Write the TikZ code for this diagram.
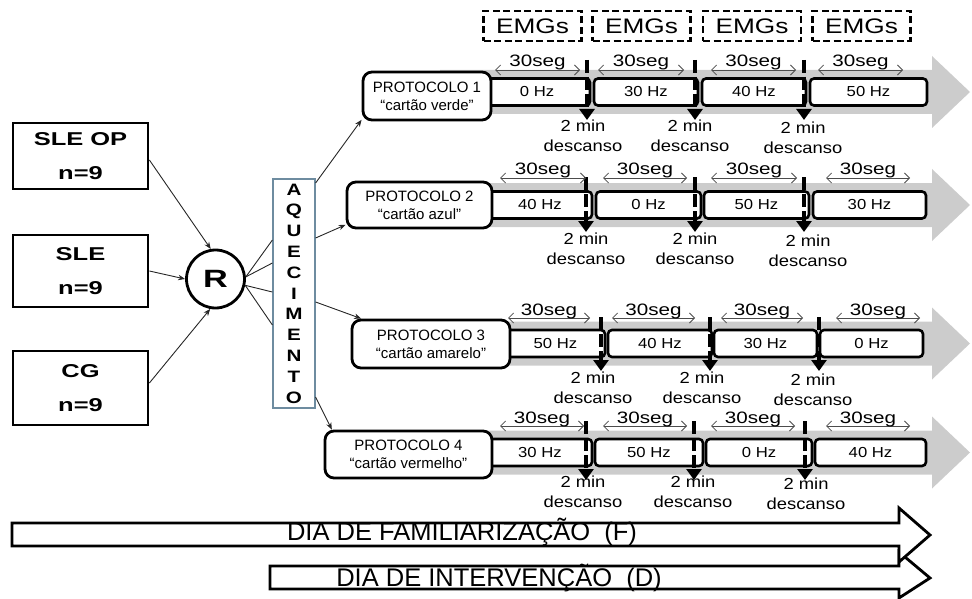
\documentclass[tikz,border=0pt]{standalone}
\usepackage{fontspec}
\setmainfont{Liberation Sans}
\newfontfamily\fntA{Liberation Sans}[FakeStretch=1.37]
\newfontfamily\fntB{Liberation Sans}[FakeStretch=1.25]
\newfontfamily\fntC{Liberation Sans}[FakeStretch=1.15]
\usetikzlibrary{arrows.meta}
\definecolor{garrow}{RGB}{204,204,204}
\definecolor{aqline}{RGB}{110,140,160}
\newcommand\segnode[5]{\node[segbox, minimum width={(#4-#3)*1pt}] (#1) at ({(#3+#4)/2},#2) {#5};}
\newcommand\grayarrow[1]{\fill[garrow] (440,#1-22) -- (932,#1-22) -- (932,#1-36) -- (970,#1) -- (932,#1+36) -- (932,#1+22) -- (440,#1+22) -- cycle;}
\begin{document}
\begin{tikzpicture}[x=1pt,y=-1pt,
 grp/.style={draw, line width=2.8pt, minimum width=135pt, inner sep=0pt, align=center, font={\fntA\bfseries\fontsize{18.6}{34}\selectfont}},
 conn/.style={draw=black!85, line width=0.9pt, -{Stealth[length=7pt,width=5.5pt]}},
 thinline/.style={draw=black!85, line width=0.9pt},
 prot/.style={draw, line width=2.8pt, rounded corners=9pt, fill=white, inner sep=0pt, align=center, font={\fontsize{15}{18}\selectfont}},
 segbox/.style={draw, line width=2.6pt, rounded corners=4pt, fill=white, minimum height=27pt, inner sep=0pt, font={\fntC\fontsize{14.5}{16}\selectfont}},
 emg/.style={draw, line width=2.6pt, dash pattern=on 7pt off 3.5pt, minimum width=98pt, minimum height=30pt, inner sep=0pt, font={\fntB\fontsize{21}{24}\selectfont}},
 restmark/.style={line width=4.5pt, dash pattern=on 13pt off 4pt, -{Triangle[width=15pt,length=11pt]}},
 durarr/.style={draw=black!70, line width=0.8pt, {Straight Barb[length=5pt,width=10pt]}-{Straight Barb[length=5pt,width=10pt]}},
 durtxt/.style={anchor=base, yshift=3pt, inner sep=0pt, font={\fntB\fontsize{16.5}{18}\selectfont}},
 resttxt/.style={align=center, inner sep=0pt, font={\fntC\fontsize{16}{20}\selectfont}},
 daybox/.style={draw, line width=2.8pt, fill=white, line join=miter},
 daytxt/.style={inner sep=0pt, font={\fontsize{25.5}{28}\selectfont}}
]
\useasboundingbox (0,0) rectangle (972,599);

% left groups
\node[grp, minimum height=66pt] (sleop) at (80.5,156) {SLE OP\\n=9};
\node[grp, minimum height=72pt] (sle) at (80.5,271) {SLE\\n=9};
\node[grp, minimum height=74pt] (cg) at (80.5,388) {CG\\n=9};
\node[circle, draw, line width=2.8pt, minimum size=58pt, inner sep=0pt, font={\fntA\bfseries\fontsize{25}{28}\selectfont}] (R) at (215.5,279) {R};

\draw[conn] ([yshift=-4pt]sleop.east) -- (R.99);
\draw[conn] (sle.east) -- (R.180);
\draw[conn] ([yshift=5pt]cg.east) -- (R.260);

% aquecimento
\node[draw=aqline, line width=1.2pt, minimum width=42pt, minimum height=229pt, inner sep=0pt, align=center, font={\fntB\bfseries\fontsize{16.5}{20.8}\selectfont}] (aq) at (294,293.5) {A\\Q\\U\\E\\C\\I\\M\\E\\N\\T\\O};
\draw[thinline] (R.4) -- ([yshift=53.5pt]aq.west);
\draw[thinline] (R.4) -- ([yshift=30.5pt]aq.west);
\draw[thinline] (R.-12) -- ([yshift=1.5pt]aq.west);
\draw[thinline] (R.-12) -- ([yshift=-31.5pt]aq.west);

% gray arrows
\grayarrow{92}
\grayarrow{205}
\grayarrow{343.5}
\grayarrow{452.5}

% segments
\segnode{r1a}{92}{484}{590}{0 Hz}
\segnode{r1b}{92}{594}{698}{30 Hz}
\segnode{r1c}{92}{702}{806}{40 Hz}
\segnode{r1d}{92}{810}{927}{50 Hz}
\segnode{r2a}{205}{488}{592}{40 Hz}
\segnode{r2b}{205}{596}{701}{0 Hz}
\segnode{r2c}{205}{704}{809}{50 Hz}
\segnode{r2d}{205}{813}{926}{30 Hz}
\segnode{r3a}{343.5}{506}{605}{50 Hz}
\segnode{r3b}{343.5}{608}{712}{40 Hz}
\segnode{r3c}{343.5}{714}{817}{30 Hz}
\segnode{r3d}{343.5}{820}{923}{0 Hz}
\segnode{r4a}{452.5}{488}{592}{30 Hz}
\segnode{r4b}{452.5}{595}{703}{50 Hz}
\segnode{r4c}{452.5}{706}{812}{0 Hz}
\segnode{r4d}{452.5}{815}{926}{40 Hz}

% protocol boxes
\node[prot, minimum width=128pt, minimum height=48pt] (p1) at (427,96) {PROTOCOLO 1\\“cartão verde”};
\node[prot, minimum width=145pt, minimum height=46pt] (p2) at (419.5,205) {PROTOCOLO 2\\“cartão azul”};
\node[prot, minimum width=158pt, minimum height=48pt] (p3) at (431,344) {PROTOCOLO 3\\“cartão amarelo”};
\node[prot, minimum width=167pt, minimum height=47pt] (p4) at (408.5,454.5) {PROTOCOLO 4\\“cartão vermelho”};

\draw[conn] ([yshift=110.5pt]aq.east) -- (p1.200);
\draw[conn] ([yshift=55.5pt]aq.east) -- (p2.195);
\draw[conn] ([yshift=-8.5pt]aq.east) -- (p3.160);
\draw[conn] ([yshift=-103.5pt]aq.east) -- (p4.162);

% EMGs
\node[emg] (e1) at (532.5,26) {EMGs};
\node[emg] (e2) at (641.5,26) {EMGs};
\node[emg] (e3) at (752,26) {EMGs};
\node[emg] (e4) at (861.5,26) {EMGs};

% rest markers and labels
\foreach \r/\k/\x/\t/\b/\lx/\ly in {
 1/1/587/60/120/583/136, 1/2/695/60/120/690/136, 1/3/804/60/120/803/138,
 2/1/586/177/232/586/249, 2/2/695/177/232/695/249, 2/3/804/177/232/808/251,
 3/1/601/317/371/593/387.5, 3/2/710/317/371/702/387.5, 3/3/819/317/371/813/389.5,
 4/1/586/421/480/583/491.5, 4/2/694/421/480/693/491.5, 4/3/805/421/480/806/493.5}{
 \coordinate (mt\r\k) at (\x,\t);
 \coordinate (mb\r\k) at (\x,\b);
 \draw[restmark] (mt\r\k) -- (mb\r\k);
 \node[resttxt] (rest\r\k) at (\lx,\ly) {2 min\\descanso};
}

% 30seg durations
\foreach \r/\k/\y/\a/\b in {
 1/1/70/495/580, 1/2/70/598/684, 1/3/70/711/796, 1/4/70/818/903,
 2/1/178/500/586, 2/2/178/603/687, 2/3/178/711/797, 2/4/178/826/910,
 3/1/318/508/590, 3/2/318/612/695, 3/3/318/721/803, 3/4/318/836/920,
 4/1/426/500/584, 4/2/426/603/687, 4/3/426/711/795, 4/4/426/826/910}{
 \coordinate (sl\r\k) at (\a,\y);
 \coordinate (sr\r\k) at (\b,\y);
 \draw[durarr] (sl\r\k) -- node[durtxt] (dt\r\k) {30seg} (sr\r\k);
}

% day arrows
\draw[daybox] (270,566) -- (899,566) -- (899,552) -- (930,578) -- (899,598) -- (899,589) -- (270,589) -- cycle;
\draw[daybox] (12,523) -- (899,523) -- (899,508) -- (930,535) -- (899,562) -- (899,546) -- (12,546) -- cycle;
\node[daytxt] (dayF) at (462,532) {DIA DE FAMILIARIZAÇÃO\ \ (F)};
\node[daytxt] (dayD) at (499,578) {DIA DE INTERVENÇÃO\ \ (D)};
\end{tikzpicture}
\end{document}
